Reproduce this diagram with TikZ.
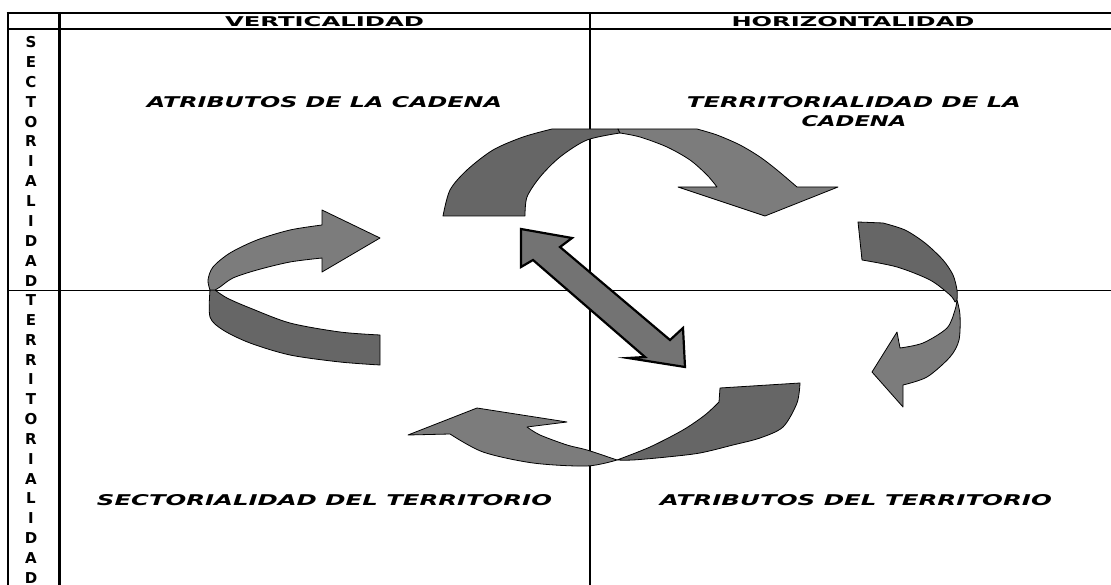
\documentclass[tikz,border=0pt]{standalone}
\usepackage{fontspec}
\setmainfont{DejaVu Sans}
\usepackage{graphicx}
\definecolor{ribdark}{HTML}{666666}
\definecolor{riblight}{HTML}{7C7C7C}
\definecolor{dblfill}{HTML}{737373}
\tikzset{
  darkpart/.style={fill=ribdark, draw=black, line width=0.8pt, line join=round},
  lightpart/.style={fill=riblight, draw=black, line width=0.8pt, line join=round},
  dblarrow/.style={fill=dblfill, draw=black, line width=2.2pt, line join=miter},
  hdr/.style={inner sep=0pt, font=\bfseries},
  quad/.style={inner sep=0pt, font=\bfseries\itshape},
  colletter/.style={inner sep=0pt, font=\bfseries\fontsize{15}{16}\selectfont},
}
\begin{document}
\begin{tikzpicture}[x=1pt,y=-1pt]
\useasboundingbox (0,0) rectangle (1111,585);
% frame
\draw[line width=2.7pt] (6.7,13) -- (1111,13);
\draw[line width=2pt] (8,29.5) -- (1111,29.5);
\draw[line width=2pt] (8,12) -- (8,585);
\draw[line width=3pt] (59,12) -- (59,585);
\draw[line width=1.3pt] (590,13) -- (590,585);
\draw[line width=1.3pt] (8,290.5) -- (1111,290.5);
% headers
\node[hdr] (hv) at (324.5,21.5) {\resizebox{199pt}{10pt}{VERTICALIDAD}};
\node[hdr] (hh) at (853,21.5) {\resizebox{243pt}{10pt}{HORIZONTALIDAD}};
% left column
\foreach [count=\i] \c in {S,E,C,T,O,R,I,A,L,I,D,A,D}
  \node[colletter] (s\i) at (31,{42+(\i-1)*19.9}) {\c};
\foreach [count=\i] \c in {T,E,R,R,I,T,O,R,I,A,L,I,D,A,D}
  \node[colletter] (t\i) at (31,{300+(\i-1)*19.85}) {\c};
% quadrant texts
\node[quad] (q1) at (324.5,102) {\resizebox{355pt}{11pt}{ATRIBUTOS DE LA CADENA}};
\node[quad] (q2a) at (854,102) {\resizebox{334pt}{11pt}{TERRITORIALIDAD DE LA}};
\node[quad] (q2b) at (854,121) {\resizebox{105pt}{11pt}{CADENA}};
\node[quad] (q3) at (324.5,500) {\resizebox{455pt}{11pt}{SECTORIALIDAD DEL TERRITORIO}};
\node[quad] (q4) at (856,500) {\resizebox{392pt}{11pt}{ATRIBUTOS DEL TERRITORIO}};
% left arrow
\draw[darkpart] plot[smooth] coordinates {(210,290) (210,317) (223,330) (250,343) (290,355) (340,362) (380,365)}
  -- (380,335) -- plot[smooth] coordinates {(380,335) (340,332) (290,323) (250,308) (227,298) (215,290)} -- cycle;
\draw[lightpart] (380,238) -- (322,210) -- (322,225)
  -- plot[smooth] coordinates {(322,225) (290,230) (257,240) (230,253) (213,267) (208,280) (210,290)}
  -- plot[smooth] coordinates {(215,290) (220,287) (233,278) (257,270) (290,262) (322,258)}
  -- (322,272) -- cycle;
% top arrow
\draw[darkpart] (443,216) -- plot[smooth] coordinates {(443,216) (450,190) (467,170) (493,150) (523,137) (552,129)}
  -- (618,129) -- (620,133)
  -- plot[smooth] coordinates {(620,133) (587,140) (560,157) (540,177) (527,197) (525,216)} -- cycle;
\draw[lightpart] (618,129) -- (697,129)
  -- plot[smooth] coordinates {(697,129) (717,135) (740,145) (760,157) (777,170) (797,187)}
  -- (838,187) -- (765,216) -- (678,187) -- (717,187)
  -- plot[smooth] coordinates {(717,187) (707,175) (690,160) (667,147) (640,137) (620,133)} -- cycle;
% right arrow
\draw[darkpart] (858,222) -- (883,223)
  -- plot[smooth] coordinates {(883,223) (905,230) (925,243) (943,260) (953,275) (957,290) (957,300)}
  -- plot[smooth] coordinates {(955,302) (950,295) (930,280) (897,267) (862,260)} -- cycle;
\draw[lightpart] plot[smooth] coordinates {(957,300) (960,315) (959,340) (950,357) (927,377) (903,385)}
  -- (903,407) -- (872,372) -- (897,332) -- (900,348)
  -- plot[smooth] coordinates {(900,348) (923,343) (947,328) (955,310) (957,300)} -- cycle;
% bottom arrow
\draw[darkpart] (720,388) -- (800,383)
  -- plot[smooth] coordinates {(800,383) (797,403) (783,427) (760,438) (733,445) (700,453) (667,457) (633,460) (617,460)}
  -- plot[smooth] coordinates {(617,460) (650,447) (683,430) (705,415) (719,402)} -- cycle;
\draw[lightpart] plot[smooth] coordinates {(617,460) (587,450) (567,445) (540,435) (527,427)}
  -- (567,422) -- (477,408) -- (408,435) -- (450,434)
  -- plot[smooth] coordinates {(450,434) (483,452) (533,463) (587,466) (617,460)} -- cycle;
% double arrow
\draw[dblarrow] (521,229) -- (572,238) -- (560,247) -- (670,340) -- (683,328) -- (685,367)
  -- (628,358) -- (645,357) -- (533,260) -- (521,267) -- cycle;
\end{tikzpicture}
\end{document}
